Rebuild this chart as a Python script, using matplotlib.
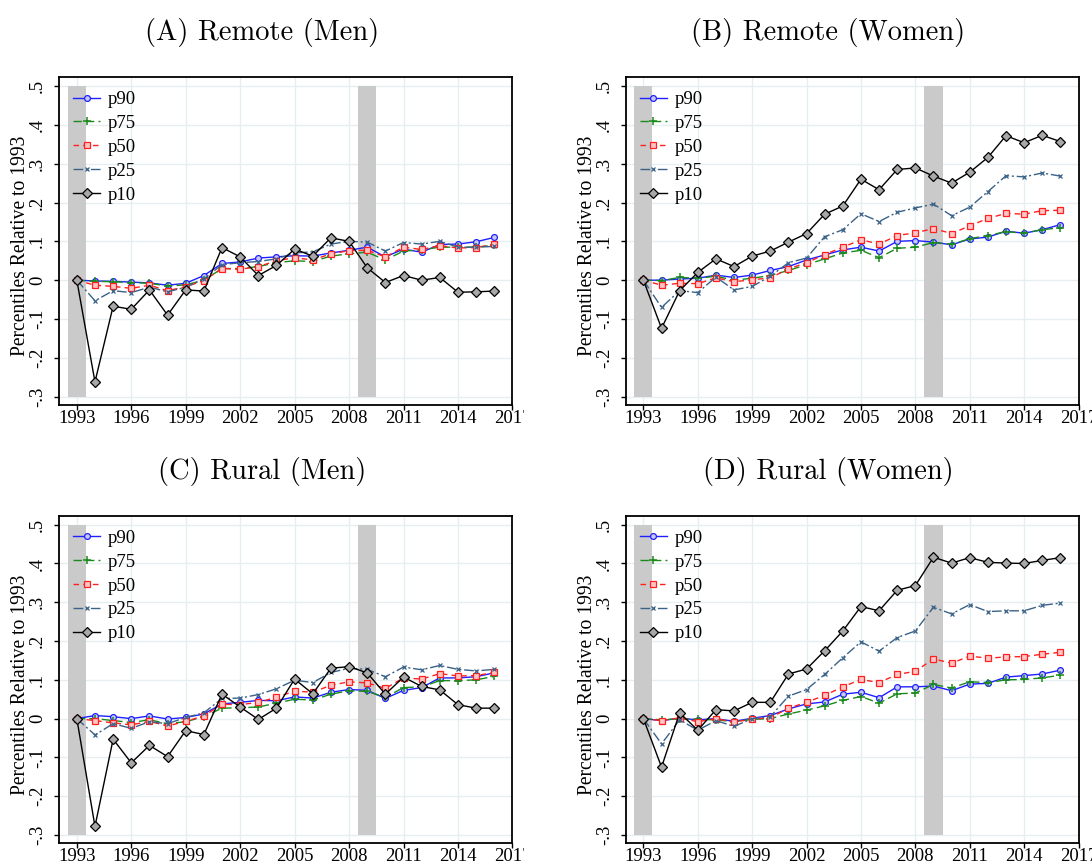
import matplotlib
matplotlib.use("Agg")
import matplotlib.pyplot as plt
from matplotlib.transforms import Bbox, TransformedBbox

years = list(range(1993, 2017))

# (A) Remote (Men)
rm_p90 = [0, -0.002, -0.003, -0.005, -0.007, -0.013, -0.008, 0.012, 0.043, 0.047, 0.057, 0.060,
          0.063, 0.062, 0.070, 0.077, 0.085, 0.060, 0.080, 0.072, 0.092, 0.093, 0.099, 0.110]
rm_p75 = [0, -0.003, -0.004, -0.006, -0.008, -0.015, -0.012, 0.000, 0.030, 0.030, 0.035, 0.045,
          0.050, 0.048, 0.062, 0.068, 0.072, 0.052, 0.075, 0.078, 0.085, 0.085, 0.085, 0.090]
rm_p50 = [0, -0.013, -0.016, -0.021, -0.013, -0.027, -0.017, -0.001, 0.030, 0.028, 0.035, 0.050,
          0.058, 0.052, 0.068, 0.076, 0.077, 0.060, 0.085, 0.079, 0.089, 0.083, 0.084, 0.092]
rm_p25 = [0, -0.053, -0.027, -0.032, -0.018, -0.030, -0.018, 0.003, 0.040, 0.045, 0.048, 0.055,
          0.070, 0.073, 0.093, 0.100, 0.098, 0.075, 0.097, 0.093, 0.100, 0.085, 0.085, 0.087]
rm_p10 = [0, -0.262, -0.067, -0.075, -0.025, -0.090, -0.025, -0.028, 0.084, 0.060, 0.012, 0.038,
          0.080, 0.062, 0.109, 0.100, 0.032, -0.006, 0.012, 0.000, 0.007, -0.031, -0.030, -0.028]

# (B) Remote (Women)
rw_p90 = [0, 0.000, 0.003, 0.005, 0.013, 0.007, 0.013, 0.025, 0.035, 0.052, 0.065, 0.078,
          0.085, 0.075, 0.100, 0.102, 0.098, 0.091, 0.106, 0.111, 0.126, 0.121, 0.130, 0.143]
rw_p75 = [0, -0.001, 0.007, 0.005, 0.010, 0.000, 0.005, 0.012, 0.025, 0.040, 0.055, 0.070,
          0.077, 0.058, 0.082, 0.085, 0.097, 0.092, 0.107, 0.115, 0.125, 0.121, 0.130, 0.135]
rw_p50 = [0, -0.013, -0.008, -0.009, 0.006, -0.004, 0.001, 0.006, 0.029, 0.045, 0.066, 0.085,
          0.104, 0.093, 0.115, 0.122, 0.133, 0.120, 0.140, 0.159, 0.172, 0.170, 0.179, 0.180]
rw_p25 = [0, -0.070, -0.027, -0.032, 0.008, -0.025, -0.016, 0.010, 0.045, 0.057, 0.112, 0.130,
          0.171, 0.151, 0.175, 0.186, 0.196, 0.166, 0.188, 0.228, 0.269, 0.266, 0.276, 0.268]
rw_p10 = [0, -0.124, -0.027, 0.020, 0.055, 0.035, 0.062, 0.075, 0.098, 0.120, 0.170, 0.191,
          0.260, 0.233, 0.285, 0.289, 0.268, 0.250, 0.278, 0.316, 0.372, 0.354, 0.373, 0.357]

# (C) Rural (Men)
um_p90 = [0, 0.008, 0.005, 0.000, 0.007, -0.001, 0.003, 0.012, 0.038, 0.042, 0.047, 0.046,
          0.056, 0.053, 0.068, 0.075, 0.073, 0.052, 0.073, 0.080, 0.105, 0.105, 0.108, 0.118]
um_p75 = [0, 0.000, -0.005, -0.010, -0.003, -0.013, -0.008, 0.005, 0.027, 0.028, 0.030, 0.040,
          0.050, 0.048, 0.063, 0.072, 0.070, 0.055, 0.080, 0.082, 0.098, 0.098, 0.100, 0.109]
um_p50 = [0, -0.005, -0.011, -0.016, -0.007, -0.019, -0.007, 0.007, 0.037, 0.036, 0.042, 0.055,
          0.071, 0.068, 0.086, 0.095, 0.092, 0.078, 0.105, 0.102, 0.116, 0.110, 0.111, 0.119]
um_p25 = [0, -0.042, -0.013, -0.025, -0.008, -0.013, 0.003, 0.015, 0.052, 0.053, 0.062, 0.077,
          0.099, 0.093, 0.119, 0.130, 0.127, 0.108, 0.133, 0.126, 0.137, 0.127, 0.123, 0.127]
um_p10 = [0, -0.278, -0.053, -0.114, -0.069, -0.098, -0.031, -0.041, 0.063, 0.030, -0.002, 0.027,
          0.102, 0.064, 0.130, 0.134, 0.118, 0.063, 0.107, 0.083, 0.074, 0.036, 0.027, 0.027]

# (D) Rural (Women)
uw_p90 = [0, -0.005, 0.001, -0.003, 0.000, -0.007, 0.001, 0.008, 0.025, 0.038, 0.043, 0.063,
          0.068, 0.054, 0.082, 0.082, 0.084, 0.072, 0.089, 0.091, 0.107, 0.111, 0.115, 0.125]
uw_p75 = [0, -0.003, 0.000, -0.002, -0.003, -0.008, -0.002, 0.000, 0.012, 0.022, 0.033, 0.047,
          0.057, 0.040, 0.064, 0.066, 0.088, 0.079, 0.095, 0.093, 0.100, 0.101, 0.105, 0.112]
uw_p50 = [0, -0.005, 0.002, -0.008, 0.000, -0.009, -0.001, 0.002, 0.027, 0.042, 0.060, 0.082,
          0.101, 0.093, 0.114, 0.122, 0.154, 0.143, 0.161, 0.156, 0.159, 0.160, 0.166, 0.171]
uw_p25 = [0, -0.065, -0.003, -0.030, -0.005, -0.020, 0.000, 0.005, 0.058, 0.075, 0.114, 0.157,
          0.198, 0.174, 0.209, 0.226, 0.287, 0.270, 0.294, 0.276, 0.278, 0.278, 0.292, 0.298]
uw_p10 = [0, -0.125, 0.015, -0.030, 0.023, 0.020, 0.042, 0.042, 0.115, 0.128, 0.175, 0.226,
          0.289, 0.278, 0.331, 0.343, 0.416, 0.401, 0.415, 0.403, 0.401, 0.400, 0.408, 0.415]

panel_titles = ["(A) Remote (Men)", "(B) Remote (Women)", "(C) Rural (Men)", "(D) Rural (Women)"]
panel_data = [
    [rm_p90, rm_p75, rm_p50, rm_p25, rm_p10],
    [rw_p90, rw_p75, rw_p50, rw_p25, rw_p10],
    [um_p90, um_p75, um_p50, um_p25, um_p10],
    [uw_p90, uw_p75, uw_p50, uw_p25, uw_p10],
]
series_labels = ["p90", "p75", "p50", "p25", "p10"]
recessions = [(1992.5, 1993.5), (2008.5, 2009.5)]
xticks = [1993, 1996, 1999, 2002, 2005, 2008, 2011, 2014, 2017]
yticks = [-0.3, -0.2, -0.1, 0, 0.1, 0.2, 0.3, 0.4, 0.5]
ytick_labels = ["-.3", "-.2", "-.1", "0", ".1", ".2", ".3", ".4", ".5"]

styles = [
    dict(color="#1f1fff", ls="-", marker="o", ms=4.2, mfc="#c8c8f4", mec="#1f1fff", mew=0.9),
    dict(color="#1a8a1a", ls=(0, (6, 3)), marker="+", ms=5.5, mec="#1a8a1a", mew=1.1),
    dict(color="#ff2020", ls=(0, (4, 3)), marker="s", ms=5, mfc="#ffc4c4", mec="#ff2020", mew=0.9),
    dict(color="#3a6288", ls=(0, (7, 2, 1.5, 2)), marker="x", ms=2.8, mec="#3a6288", mew=0.9),
    dict(color="black", ls="-", marker="D", ms=4.6, mfc="#a8a8a8", mec="black", mew=0.9),
]

W, H = 1092, 866
fig = plt.figure(figsize=(W / 100, H / 100), dpi=100)
serif = "Liberation Serif"
fs = 13.5

# axes boxes in pixels: left, top, right, bottom
boxes = [(59.4, 77.3, 512.4, 405), (626, 77.3, 1078.5, 405),
         (59.4, 516, 512.4, 843.3), (626, 516, 1078.5, 843.3)]
title_pos = [(262, 32.7), (828, 32.7), (262, 471.5), (828, 471.5)]
ylabel_x = [21, 588, 21, 588]
clip_right = [524, W, 524, W]

for i in range(4):
    l, t, r, b = boxes[i]
    ax = fig.add_axes([l / W, 1 - b / H, (r - l) / W, (b - t) / H])
    for x0, x1 in recessions:
        ax.fill_between([x0, x1], -0.3, 0.5, color="#cacaca", lw=0, zorder=1)
    for vals, lab, st in zip(panel_data[i], series_labels, styles):
        ax.plot(years, vals, label=lab, lw=1.0, zorder=3, **st)
    ax.set_xlim(1992.04, 2017)
    ax.set_ylim(-0.3214, 0.5224)
    ax.set_xticks(xticks)
    ax.set_yticks(yticks)
    ax.set_yticklabels(ytick_labels, rotation=90, va="center")
    ax.grid(True, color="#e6eff0", lw=1.0, zorder=0)
    ax.set_axisbelow(True)
    ax.tick_params(direction="out", length=3.5, width=1, labelsize=fs)
    ax.tick_params(axis="x", pad=0)
    ax.tick_params(axis="y", pad=6)
    for lbl in ax.get_xticklabels() + ax.get_yticklabels():
        lbl.set_fontfamily(serif)
    for sp in ax.spines.values():
        sp.set_linewidth(1.3)
    # the last year label is cut by the panel edge, as in the source
    for lbl in ax.get_xticklabels():
        if lbl.get_text() == "2017":
            lbl.set_clip_box(TransformedBbox(Bbox([[0, 0], [clip_right[i] / W, 1]]), fig.transFigure))
            lbl.set_clip_on(True)
    ax.legend(loc="upper left", bbox_to_anchor=(0.0, 1.0), frameon=False, numpoints=1,
              handlelength=1.45, handletextpad=0.4, labelspacing=0.36, borderaxespad=0.53,
              borderpad=0.2, prop={"family": serif, "size": fs})
    fig.text(ylabel_x[i] / W, 1 - ((t + b) / 2 + 5) / H, "Percentiles Relative to 1993",
             rotation=90, ha="center", va="center", family=serif, fontsize=14.1)
    tx, ty = title_pos[i]
    fig.text(tx / W, 1 - ty / H, panel_titles[i], ha="center", va="center",
             family="cmr10", fontsize=20.5)

fig.savefig("out.png", dpi=100)
